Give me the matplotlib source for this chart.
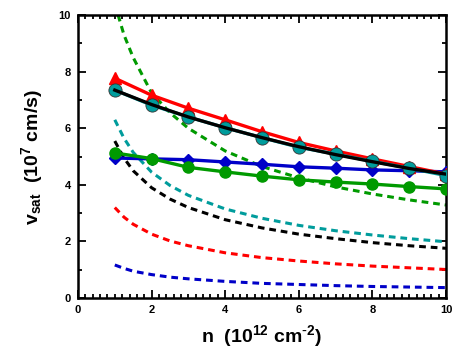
import matplotlib
matplotlib.use("Agg")
import matplotlib.pyplot as plt
from matplotlib.ticker import MultipleLocator

plt.rcParams['font.family'] = ['Liberation Sans', 'DejaVu Sans']
plt.rcParams['mathtext.default'] = 'regular'
plt.rcParams['axes.unicode_minus'] = False

# density points (10^12 cm^-2)
n = [1, 2, 3, 4, 5, 6, 7, 8, 9, 10]
v_red = [7.77, 7.17, 6.71, 6.30, 5.88, 5.50, 5.20, 4.92, 4.65, 4.38]
v_teal = [7.35, 6.82, 6.40, 6.02, 5.67, 5.33, 5.09, 4.83, 4.59, 4.33]
v_black = [7.35, 6.84, 6.40, 6.02, 5.67, 5.35, 5.07, 4.82, 4.58, 4.38]
v_blue = [4.95, 4.92, 4.89, 4.81, 4.73, 4.64, 4.59, 4.53, 4.50, 4.46]
v_green = [5.13, 4.93, 4.62, 4.46, 4.31, 4.18, 4.10, 4.03, 3.94, 3.86]

# dashed curves
nd = [1, 1.25, 1.5, 2, 2.5, 3, 4, 5, 6, 7, 8, 9, 10]
d_green = [10.4, 9.3, 8.5, 7.25, 6.55, 6.0, 5.2, 4.65, 4.25, 3.93, 3.68, 3.47, 3.29]
d_teal = [6.3, 5.65, 5.15, 4.45, 3.98, 3.63, 3.15, 2.82, 2.57, 2.38, 2.23, 2.10, 1.99]
d_black = [5.55, 4.95, 4.5, 3.9, 3.5, 3.2, 2.77, 2.48, 2.26, 2.10, 1.96, 1.85, 1.76]
d_red = [3.2, 2.86, 2.61, 2.26, 2.02, 1.85, 1.60, 1.43, 1.31, 1.21, 1.13, 1.07, 1.01]
d_blue = [1.17, 1.05, 0.95, 0.83, 0.74, 0.68, 0.59, 0.52, 0.48, 0.44, 0.41, 0.39, 0.37]

fig = plt.figure(figsize=(4.67, 3.6), dpi=100)
ax = fig.add_axes([0.167, 0.172, 0.788, 0.786])

RED = '#ff0000'
GREEN = '#009a00'
BLUE = '#0000c8'
TEAL = '#009c9c'

dash = (2.2, 1.6)
lw_d = 2.2
ax.plot(nd, d_green, color=GREEN, lw=lw_d, dashes=dash, zorder=2)
ax.plot(nd, d_teal, color=TEAL, lw=lw_d, dashes=dash, zorder=2)
ax.plot(nd, d_black, color='black', lw=lw_d, dashes=dash, zorder=2)
ax.plot(nd, d_red, color=RED, lw=lw_d, dashes=dash, zorder=2)
ax.plot(nd, d_blue, color=BLUE, lw=lw_d, dashes=dash, zorder=2)

lw = 2.4
ax.plot(n, v_blue, color=BLUE, lw=lw, marker='D', ms=6.5, mec=BLUE, zorder=3)
ax.plot(n, v_green, color=GREEN, lw=lw, marker='o', ms=8, mec=GREEN, zorder=3)
ax.plot(n, v_red, color=RED, lw=lw, marker='^', ms=8, mec=RED, zorder=4)
ax.plot(n, v_teal, color=TEAL, lw=lw, marker='o', ms=9.5, mec='#333333', mew=0.6, zorder=5)
ax.plot(n, v_black, color='black', lw=lw, zorder=6)

ax.set_xlim(0, 10)
ax.set_ylim(0, 10)
ax.xaxis.set_major_locator(MultipleLocator(2))
ax.xaxis.set_minor_locator(MultipleLocator(0.2))
ax.yaxis.set_major_locator(MultipleLocator(2))
ax.yaxis.set_minor_locator(MultipleLocator(1))
ax.tick_params(which='both', direction='in', top=True, right=True, width=1.3)
ax.tick_params(which='major', length=6, labelsize=8, pad=5)
ax.tick_params(which='minor', length=3)
for lab in ax.get_xticklabels() + ax.get_yticklabels():
    lab.set_fontweight('bold')
for s in ax.spines.values():
    s.set_linewidth(1.8)

ax.set_xlabel(r'n  (10$^{12}$ cm$^{\text{-}2}$)', fontsize=14, fontweight='bold', labelpad=6)
ax.set_ylabel('v$_{sat}$  (10$^{7}$ cm/s)', fontsize=14, fontweight='bold', labelpad=10)

fig.savefig('out.png', dpi=100)
